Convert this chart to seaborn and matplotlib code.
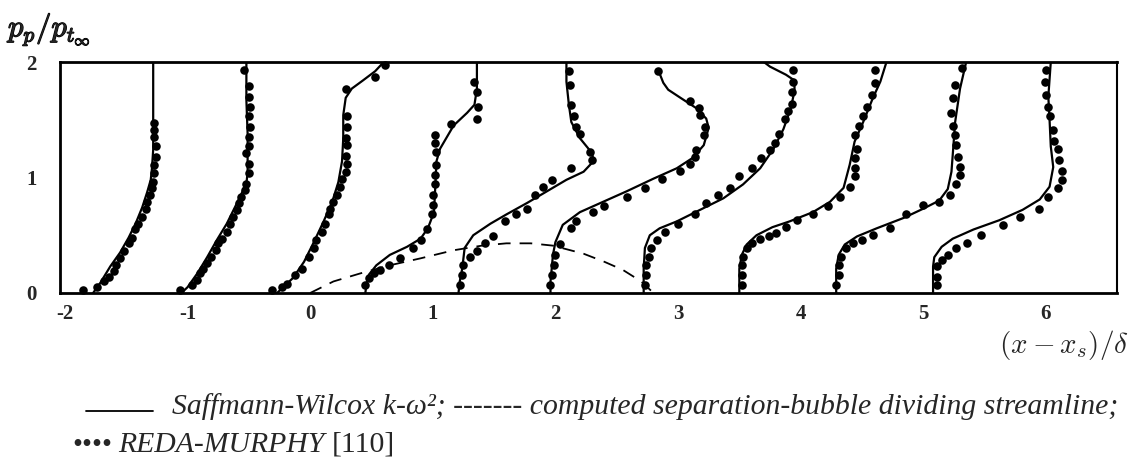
import numpy as np
import pandas as pd
import matplotlib
matplotlib.use("Agg")
import matplotlib.pyplot as plt
import matplotlib.patheffects as pe
from matplotlib.lines import Line2D
import seaborn as sns

# ---- Saffmann-Wilcox k-omega^2 computed profiles (x position, p_p/p_t_inf) ----
sw_1_x = [-1.77, -1.71, -1.63, -1.55, -1.48, -1.42, -1.37, -1.33, -1.30, -1.29, -1.28, -1.28, -1.28]
sw_1_y = [0.00, 0.09, 0.23, 0.35, 0.48, 0.61, 0.74, 0.87, 0.98, 1.08, 1.24, 1.50, 2.00]
sw_2_x = [-1.05, -1.00, -0.92, -0.84, -0.76, -0.68, -0.61, -0.56, -0.52, -0.51, -0.51, -0.52, -0.52]
sw_2_y = [0.00, 0.05, 0.17, 0.31, 0.46, 0.60, 0.75, 0.86, 0.95, 1.04, 1.38, 1.67, 2.00]
sw_3_x = [-0.27, -0.14, -0.05, 0.03, 0.11, 0.18, 0.23, 0.26, 0.27, 0.27, 0.29, 0.34, 0.43, 0.53, 0.60]
sw_3_y = [0.00, 0.13, 0.27, 0.44, 0.62, 0.79, 0.96, 1.14, 1.34, 1.54, 1.69, 1.77, 1.84, 1.92, 2.00]
sw_4_x = [0.45, 0.46, 0.48, 0.54, 0.65, 0.79, 0.90, 0.96, 1.01, 1.02, 1.03, 1.06, 1.17, 1.28, 1.34, 1.36, 1.36]
sw_4_y = [0.00, 0.08, 0.16, 0.24, 0.33, 0.40, 0.47, 0.56, 0.70, 0.91, 1.14, 1.25, 1.45, 1.56, 1.63, 1.77, 2.00]
sw_5_x = [1.21, 1.22, 1.24, 1.26, 1.33, 1.47, 1.60, 1.77, 1.93, 2.09, 2.23, 2.31, 2.30, 2.20, 2.13, 2.11, 2.09, 2.09]
sw_5_y = [0.00, 0.10, 0.21, 0.39, 0.50, 0.60, 0.68, 0.78, 0.88, 0.98, 1.05, 1.14, 1.21, 1.34, 1.48, 1.63, 1.83, 2.00]
sw_6_x = [1.96, 1.96, 1.97, 1.98, 2.00, 2.06, 2.20, 2.39, 2.58, 2.80, 2.99, 3.12, 3.21, 3.25, 3.23, 3.15, 3.02, 2.92, 2.88, 2.85]
sw_6_y = [0.00, 0.10, 0.21, 0.33, 0.44, 0.59, 0.70, 0.79, 0.88, 0.99, 1.08, 1.17, 1.28, 1.43, 1.51, 1.60, 1.69, 1.76, 1.82, 1.90]
sw_7_x = [2.72, 2.72, 2.73, 2.77, 2.85, 2.99, 3.18, 3.37, 3.53, 3.67, 3.78, 3.86, 3.92, 3.95, 3.95, 3.88, 3.75, 3.70]
sw_7_y = [0.00, 0.21, 0.39, 0.50, 0.56, 0.62, 0.72, 0.82, 0.94, 1.08, 1.25, 1.42, 1.60, 1.75, 1.84, 1.89, 1.96, 2.00]
sw_8_x = [3.50, 3.50, 3.52, 3.56, 3.64, 3.77, 3.91, 4.10, 4.24, 4.35, 4.40, 4.44, 4.51, 4.59, 4.65, 4.70]
sw_8_y = [0.00, 0.21, 0.33, 0.42, 0.50, 0.57, 0.62, 0.70, 0.79, 0.91, 1.11, 1.31, 1.48, 1.69, 1.83, 2.00]
sw_9_x = [4.29, 4.29, 4.31, 4.36, 4.46, 4.62, 4.84, 5.00, 5.13, 5.20, 5.23, 5.24, 5.26, 5.30, 5.35]
sw_9_y = [0.00, 0.21, 0.33, 0.42, 0.49, 0.56, 0.65, 0.73, 0.80, 0.90, 1.05, 1.19, 1.48, 1.77, 2.00]
sw_10_x = [5.08, 5.08, 5.09, 5.15, 5.24, 5.41, 5.62, 5.81, 5.95, 6.03, 6.06, 6.04, 6.03, 6.02, 6.04]
sw_10_y = [0.00, 0.23, 0.31, 0.40, 0.47, 0.55, 0.63, 0.72, 0.81, 0.92, 1.09, 1.27, 1.50, 1.70, 2.00]

# ---- REDA-MURPHY measurements ----
rm_1_x = [-1.85, -1.74, -1.68, -1.64, -1.60, -1.58, -1.55, -1.52, -1.48, -1.45, -1.43, -1.40, -1.37,
          -1.34, -1.33, -1.31, -1.29, -1.28, -1.27, -1.27, -1.26, -1.26, -1.27, -1.27, -1.27]
rm_1_y = [0.03, 0.05, 0.10, 0.14, 0.19, 0.24, 0.30, 0.36, 0.43, 0.48, 0.55, 0.60, 0.66,
          0.73, 0.79, 0.85, 0.91, 0.96, 1.04, 1.11, 1.18, 1.27, 1.35, 1.41, 1.47]
rm_2_x = [-1.06, -0.96, -0.92, -0.90, -0.87, -0.84, -0.81, -0.77, -0.75, -0.72, -0.68, -0.65, -0.63, -0.60,
          -0.58, -0.56, -0.53, -0.52, -0.50, -0.50, -0.52, -0.50, -0.50, -0.49, -0.50, -0.49, -0.50, -0.50, -0.54]
rm_2_y = [0.03, 0.07, 0.11, 0.17, 0.21, 0.26, 0.31, 0.37, 0.43, 0.47, 0.53, 0.60, 0.66, 0.72,
          0.78, 0.83, 0.89, 0.94, 1.04, 1.12, 1.21, 1.27, 1.35, 1.44, 1.53, 1.61, 1.70, 1.79, 1.93]
rm_3_x = [-0.31, -0.23, -0.19, -0.12, -0.07, -0.01, 0.03, 0.05, 0.10, 0.12, 0.15, 0.16, 0.19,
          0.22, 0.24, 0.26, 0.29, 0.30, 0.29, 0.30, 0.29, 0.30, 0.30, 0.29, 0.53, 0.61]
rm_3_y = [0.03, 0.05, 0.08, 0.16, 0.21, 0.31, 0.39, 0.46, 0.53, 0.60, 0.68, 0.73, 0.79,
          0.85, 0.92, 0.99, 1.05, 1.12, 1.19, 1.28, 1.34, 1.44, 1.53, 1.77, 1.87, 1.97]
rm_4_x = [0.45, 0.48, 0.52, 0.57, 0.64, 0.73, 0.84, 0.90, 0.95, 0.99, 1.00, 1.00, 1.02, 1.02,
          1.03, 1.03, 1.02, 1.02, 1.15, 1.36, 1.37, 1.36, 1.34]
rm_4_y = [0.07, 0.13, 0.17, 0.20, 0.24, 0.30, 0.39, 0.46, 0.55, 0.68, 0.76, 0.85, 0.94, 1.02,
          1.11, 1.22, 1.30, 1.37, 1.46, 1.51, 1.61, 1.74, 1.83]
rm_5_x = [1.22, 1.24, 1.25, 1.30, 1.36, 1.43, 1.49, 1.59, 1.68, 1.77, 1.83, 1.90, 1.97, 2.13,
          2.30, 2.28, 2.20, 2.17, 2.15, 2.13, 2.12, 2.11]
rm_5_y = [0.07, 0.16, 0.24, 0.31, 0.36, 0.43, 0.49, 0.62, 0.68, 0.73, 0.85, 0.92, 0.98, 1.08,
          1.15, 1.22, 1.38, 1.44, 1.53, 1.63, 1.80, 1.92]
rm_6_x = [1.96, 1.97, 1.99, 2.00, 2.04, 2.13, 2.17, 2.31, 2.40, 2.58, 2.73, 2.87, 3.02, 3.10,
          3.14, 3.15, 3.21, 3.22, 3.18, 3.17, 3.10, 2.84]
rm_6_y = [0.07, 0.16, 0.24, 0.33, 0.42, 0.56, 0.62, 0.70, 0.75, 0.83, 0.91, 0.99, 1.06, 1.12,
          1.18, 1.24, 1.37, 1.44, 1.54, 1.60, 1.66, 1.92]
rm_7_x = [2.73, 2.74, 2.74, 2.76, 2.78, 2.83, 2.89, 3.00, 3.14, 3.23, 3.33, 3.42, 3.50, 3.60,
          3.68, 3.75, 3.79, 3.82, 3.87, 3.90, 3.93, 3.93, 3.94, 3.94]
rm_7_y = [0.07, 0.16, 0.24, 0.31, 0.39, 0.46, 0.53, 0.60, 0.68, 0.78, 0.85, 0.91, 1.01, 1.08,
          1.17, 1.24, 1.30, 1.38, 1.51, 1.58, 1.64, 1.74, 1.83, 1.93]
rm_8_x = [3.52, 3.52, 3.52, 3.53, 3.56, 3.60, 3.67, 3.74, 3.80, 3.88, 3.97, 4.10, 4.22, 4.32,
          4.40, 4.44, 4.44, 4.44, 4.46, 4.44, 4.48, 4.51, 4.54, 4.58, 4.61, 4.61]
rm_8_y = [0.07, 0.16, 0.24, 0.31, 0.39, 0.43, 0.47, 0.49, 0.52, 0.57, 0.63, 0.68, 0.75, 0.83,
          0.92, 1.01, 1.08, 1.17, 1.25, 1.37, 1.45, 1.53, 1.61, 1.71, 1.82, 1.93]
rm_9_x = [4.29, 4.31, 4.31, 4.33, 4.37, 4.43, 4.50, 4.59, 4.73, 4.86, 5.00, 5.13, 5.22, 5.27,
          5.30, 5.30, 5.28, 5.27, 5.26, 5.24, 5.23, 5.24, 5.26, 5.32]
rm_9_y = [0.07, 0.16, 0.24, 0.31, 0.39, 0.43, 0.46, 0.50, 0.56, 0.68, 0.76, 0.79, 0.85, 0.94,
          1.02, 1.09, 1.18, 1.28, 1.37, 1.45, 1.56, 1.69, 1.80, 1.95]
rm_10_x = [5.11, 5.11, 5.11, 5.15, 5.20, 5.27, 5.36, 5.47, 5.65, 5.79, 5.94, 6.02, 6.10, 6.13,
           6.13, 6.11, 6.10, 6.07, 6.06, 6.03, 6.02, 6.00, 5.99, 6.00]
rm_10_y = [0.07, 0.14, 0.23, 0.29, 0.33, 0.39, 0.43, 0.50, 0.59, 0.66, 0.73, 0.83, 0.91, 0.98,
           1.06, 1.15, 1.25, 1.32, 1.41, 1.53, 1.61, 1.71, 1.83, 1.93]

# ---- computed separation-bubble dividing streamline ----
bubble_x = [0.00, 0.19, 0.41, 0.65, 0.90, 1.17, 1.40, 1.60, 1.80, 1.98, 2.23, 2.40, 2.55, 2.70, 2.78]
bubble_y = [0.00, 0.10, 0.17, 0.24, 0.30, 0.37, 0.41, 0.43, 0.43, 0.41, 0.34, 0.27, 0.20, 0.10, 0.02]

x_ticks = [-2, -1, 0, 1, 2, 3, 4, 5, 6]
y_ticks = [0, 1, 2]

model_sets = [(sw_1_x, sw_1_y), (sw_2_x, sw_2_y), (sw_3_x, sw_3_y), (sw_4_x, sw_4_y), (sw_5_x, sw_5_y),
              (sw_6_x, sw_6_y), (sw_7_x, sw_7_y), (sw_8_x, sw_8_y), (sw_9_x, sw_9_y), (sw_10_x, sw_10_y)]
meas_sets = [(rm_1_x, rm_1_y), (rm_2_x, rm_2_y), (rm_3_x, rm_3_y), (rm_4_x, rm_4_y), (rm_5_x, rm_5_y),
             (rm_6_x, rm_6_y), (rm_7_x, rm_7_y), (rm_8_x, rm_8_y), (rm_9_x, rm_9_y), (rm_10_x, rm_10_y)]

model_df = pd.concat(
    [pd.DataFrame({"x": xs, "p": ys, "station": k}) for k, (xs, ys) in enumerate(model_sets)],
    ignore_index=True)
meas_df = pd.concat(
    [pd.DataFrame({"x": xs, "p": ys, "station": k}) for k, (xs, ys) in enumerate(meas_sets)],
    ignore_index=True)
bubble_df = pd.DataFrame({"x": bubble_x, "p": bubble_y})

sns.set_style("white")
plt.rcParams["font.family"] = ["Liberation Serif", "DejaVu Serif"]
plt.rcParams["mathtext.fontset"] = "cm"
plt.rcParams["axes.unicode_minus"] = False

W, H = 1136, 458
fig = plt.figure(figsize=(W / 100, H / 100), dpi=100)
ax = fig.add_axes([60 / W, 1 - 293 / H, (1117 - 60) / W, (293 - 62) / H])

sns.lineplot(data=model_df, x="x", y="p", units="station", estimator=None, sort=False,
             color="black", linewidth=1.6, ax=ax, legend=False)
sns.lineplot(data=bubble_df, x="x", y="p", sort=False, color="black", linewidth=1.3,
             linestyle=(0, (7, 5)), ax=ax, legend=False)
sns.scatterplot(data=meas_df, x="x", y="p", color="black", s=38, linewidth=0,
                ax=ax, legend=False, clip_on=False)

ax.set_xlim(-2.04, 6.58)
ax.set_ylim(0, 2)
ax.set_xticks(x_ticks)
ax.set_yticks(y_ticks)
ax.set_xticklabels([str(v) for v in x_ticks])
ax.set_yticklabels([str(v) for v in y_ticks])
ax.set_xlabel("")
ax.set_ylabel("")
for side in ["left", "right", "top", "bottom"]:
    ax.spines[side].set_visible(True)
    ax.spines[side].set_color("black")
    ax.spines[side].set_linewidth(2.0)
ax.spines["right"].set_linewidth(1.5)
ax.tick_params(axis="x", direction="in", length=6, width=1.2, pad=8, labelsize=15)
ax.tick_params(axis="y", direction="in", length=8, width=1.2, pad=17, labelsize=15)
for lab in ax.get_xticklabels() + ax.get_yticklabels():
    lab.set_fontweight("bold")

heavy = [pe.withStroke(linewidth=0.9, foreground="black")]
fig.text(8 / W, 1 - 29 / H, r"$p_p/p_{t_\infty}$", fontsize=22,
         ha="left", va="center", path_effects=heavy)
fig.text(1129 / W, 1 - 345 / H, r"$(x-x_s)/\delta$", fontsize=21, ha="right", va="center")

# ---- caption below the plot ----
fig.canvas.draw()
renderer = fig.canvas.get_renderer()


def put(x_px, base_px, s, **kw):
    t = fig.text(x_px / W, 1 - base_px / H, s, ha="left", va="baseline", **kw)
    return t, t.get_window_extent(renderer=renderer).x1


line1 = "Saffmann-Wilcox k-ω²; ------- computed separation-bubble dividing streamline;"
probe, right = put(172, 414, line1, fontsize=20, style="italic")
size = 20 * (1120 - 172) / (right - 172)
probe.remove()

base1, base2 = 414, 452
put(172, base1, line1, fontsize=size, style="italic")
fig.add_artist(Line2D([86 / W, 153 / W], [1 - (base1 - 3) / H] * 2, color="black",
                      linewidth=1.3, transform=fig.transFigure))
_, x_end = put(72, base2, "••••", fontsize=size * 0.95)
_, x_end = put(118, base2, "REDA-MURPHY", fontsize=size, style="italic")
put(x_end + 7, base2, "[110]", fontsize=size)

fig.savefig("out.png", dpi=100)
